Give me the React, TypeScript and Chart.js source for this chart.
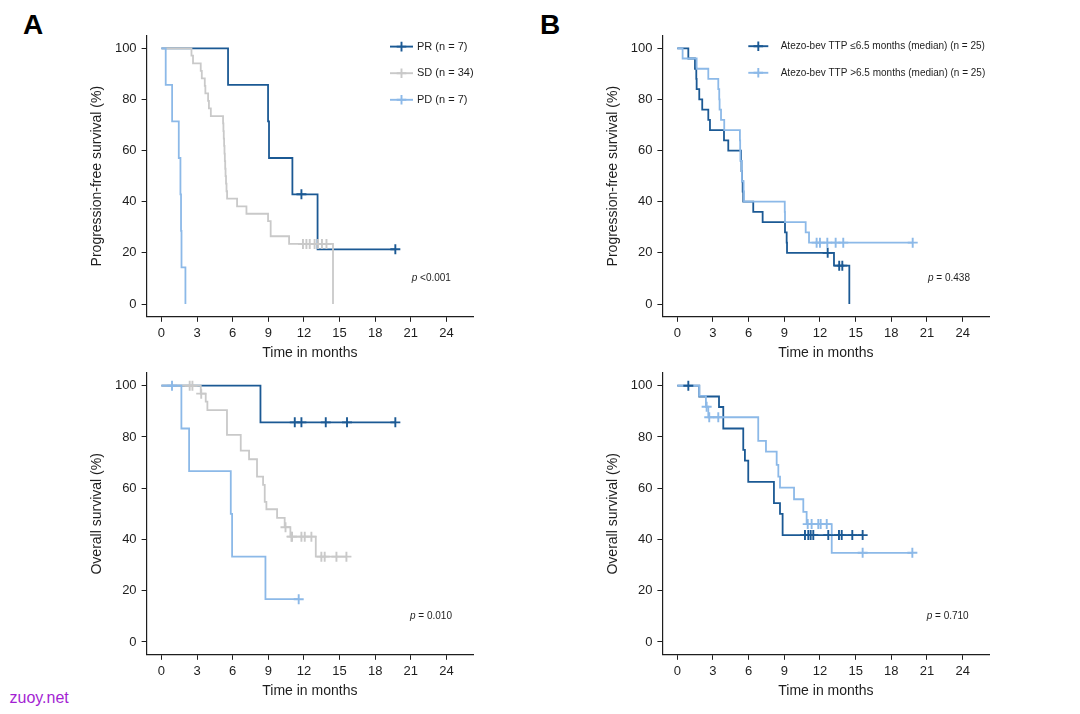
import React, { useEffect, useRef } from 'react';
import { Chart, registerables } from 'chart.js';

Chart.register(...registerables);

const FONT = "'Liberation Sans', Arial, Helvetica, sans-serif";
const DARK = '#1b5994';
const GRAY = '#c9c9c9';
const LIGHT = '#8cb9e8';
const INK = '#1e1e1e';

// ---------- axes ----------
const xTicks = [0, 3, 6, 9, 12, 15, 18, 21, 24];
const yTicks = [0, 20, 40, 60, 80, 100];
const xTitle = 'Time in months';
const yTitlePFS = 'Progression-free survival (%)';
const yTitleOS = 'Overall survival (%)';

// ---------- Panel A: PFS by response ----------
const pfsPR_t = [0, 5.61, 8.98, 9.06, 11.03, 13.15, 19.7];
const pfsPR_s = [100, 85.7, 71.4, 57.1, 42.9, 21.4, 21.4];
const pfsPR_c = [11.79, 19.7];

const pfsSD_t = [0, 2.53, 2.66, 3.31, 3.4, 3.65, 3.7, 3.93, 4.0, 4.16, 5.19, 5.22, 5.25, 5.28, 5.31, 5.34, 5.37, 5.4, 5.44, 5.48, 5.53, 6.37, 7.16, 8.98, 9.2, 10.75, 14.45];
const pfsSD_s = [100, 97.1, 94.1, 91.2, 88.2, 85.3, 82.4, 79.4, 76.5, 73.5, 70.6, 67.6, 64.7, 61.8, 58.8, 55.9, 52.9, 50.0, 47.1, 44.1, 41.2, 38.2, 35.3, 32.4, 26.5, 23.5, 0];
const pfsSD_c = [11.92, 12.21, 12.49, 12.9, 13.19, 13.52, 13.9];

const pfsPD_t = [0, 0.36, 0.9, 1.46, 1.6, 1.65, 1.69, 2.02];
const pfsPD_s = [100, 85.7, 71.4, 57.1, 42.9, 28.6, 14.3, 0];
const pfsPD_c: number[] = [];

// ---------- Panel A: OS by response ----------
const osPR_t = [0, 8.34, 19.7];
const osPR_s = [100, 85.7, 85.7];
const osPR_c = [11.23, 11.79, 13.84, 15.63, 19.7];

const osSD_t = [0, 3.31, 3.73, 3.87, 5.52, 6.68, 7.38, 8.05, 8.56, 8.7, 8.84, 9.74, 10.38, 10.86, 13.0, 15.58];
const osSD_s = [100, 96.9, 93.8, 90.5, 80.8, 74.7, 71.3, 64.5, 61.3, 54.7, 51.8, 48.4, 44.8, 41.1, 33.3, 33.3];
const osSD_c = [2.38, 2.61, 3.35, 10.45, 10.95, 11.0, 11.79, 12.07, 12.63, 13.47, 13.75, 14.74, 15.58];

const osPD_t = [0, 1.68, 2.33, 5.84, 5.95, 8.76, 11.56];
const osPD_s = [100, 83.3, 66.7, 50, 33.3, 16.7, 16.7];
const osPD_c = [0.89, 11.56];

// ---------- Panel B: PFS by atezo-bev TTP ----------
const pfsLo_t = [0, 0.93, 1.49, 1.6, 1.63, 1.85, 2.1, 2.61, 2.75, 3.93, 4.29, 5.36, 5.4, 5.45, 5.5, 5.55, 6.39, 7.18, 9.06, 9.2, 9.23, 13.18, 14.47];
const pfsLo_s = [100, 96, 92, 88, 84, 80, 76, 72, 68, 64, 60, 56, 52, 48, 44, 40, 36, 32, 28, 24, 20, 15, 0];
const pfsLo_c = [12.65, 13.62, 13.88];

const pfsHi_t = [0, 0.45, 1.63, 2.61, 3.45, 3.53, 3.56, 3.68, 3.95, 5.27, 5.29, 5.31, 5.42, 5.44, 5.58, 5.61, 9.04, 9.06, 10.8, 11.08, 19.8];
const pfsHi_s = [100, 96, 92, 88, 84, 80, 76, 72, 68, 64, 60, 56, 52, 48, 44, 40, 36, 32, 28, 24, 24];
const pfsHi_c = [11.72, 12.0, 12.62, 13.32, 13.96, 19.8];

// ---------- Panel B: OS by atezo-bev TTP ----------
const osLo_t = [0, 1.85, 3.51, 3.87, 5.55, 5.69, 5.97, 8.13, 8.64, 8.86, 15.59];
const osLo_s = [100, 95.8, 91.7, 83.3, 75.0, 70.8, 62.5, 54.2, 50.0, 41.7, 41.7];
const osLo_c = [0.93, 10.74, 11.02, 11.22, 11.44, 12.7, 13.6, 13.83, 14.72, 15.59];

const osHi_t = [0, 1.85, 2.41, 2.61, 6.81, 7.46, 8.36, 8.5, 8.64, 9.82, 10.6, 10.88, 12.99, 19.77];
const osHi_s = [100, 96, 91.8, 87.7, 78.5, 74.3, 69.1, 64.5, 60.2, 55.7, 50.8, 46.0, 34.8, 34.8];
const osHi_c = [2.47, 2.69, 3.45, 10.97, 11.3, 11.86, 12.06, 12.57, 15.59, 19.77];

// ---------- legends & p values ----------
const legendA = ['PR (n = 7)', 'SD (n = 34)', 'PD (n = 7)'];
const legendB = ['Atezo-bev TTP \u22646.5 months (median) (n = 25)', 'Atezo-bev TTP >6.5 months (median) (n = 25)'];
const pValues = ['<0.001', '= 0.010', '= 0.438', '= 0.710'];

type Curve = { t: number[]; s: number[]; c: number[]; color: string };
type Rect = { L: number; T: number; W: number; H: number };
type Area = { left: number; top: number; right: number; bottom: number };
type Panel = {
  curves: Curve[]; // first = drawn on top
  yTitle: string;
  rect: Rect;
  area: Area;
  legend: { labels: string[]; colors: string[]; x1: number; x2: number; tx: number; y0: number; dy: number; size: number } | null;
  p: { text: string; x: number; y: number };
};

function survAt(t: number[], s: number[], x: number): number {
  let v = s[0];
  for (let i = 0; i < t.length; i++) if (t[i] <= x) v = s[i];
  return v;
}

const rectAT: Rect = { L: 89, T: 16, W: 391, H: 346 };
const rectAB: Rect = { L: 89, T: 356, W: 391, H: 344 };
const rectBT: Rect = { L: 605, T: 16, W: 393, H: 346 };
const rectBB: Rect = { L: 605, T: 356, W: 393, H: 344 };

const areaAT: Area = { left: 146.6, right: 473.2, top: 35.5, bottom: 316.8 };
const areaAB: Area = { left: 146.6, right: 473.2, top: 372.9, bottom: 654.8 };
const areaBT: Area = { left: 662.4, right: 989.4, top: 35.5, bottom: 316.8 };
const areaBB: Area = { left: 662.4, right: 989.4, top: 372.9, bottom: 654.8 };

const panels: Panel[] = [
  {
    curves: [
      { t: pfsPD_t, s: pfsPD_s, c: pfsPD_c, color: LIGHT },
      { t: pfsSD_t, s: pfsSD_s, c: pfsSD_c, color: GRAY },
      { t: pfsPR_t, s: pfsPR_s, c: pfsPR_c, color: DARK },
    ],
    yTitle: yTitlePFS,
    rect: rectAT,
    area: areaAT,
    legend: { labels: legendA, colors: [DARK, GRAY, LIGHT], x1: 390, x2: 413, tx: 417, y0: 46.6, dy: 26.6, size: 11 },
    p: { text: pValues[0], x: 411.7, y: 278.3 },
  },
  {
    curves: [
      { t: osPD_t, s: osPD_s, c: osPD_c, color: LIGHT },
      { t: osSD_t, s: osSD_s, c: osSD_c, color: GRAY },
      { t: osPR_t, s: osPR_s, c: osPR_c, color: DARK },
    ],
    yTitle: yTitleOS,
    rect: rectAB,
    area: areaAB,
    legend: null,
    p: { text: pValues[1], x: 410, y: 616.7 },
  },
  {
    curves: [
      { t: pfsHi_t, s: pfsHi_s, c: pfsHi_c, color: LIGHT },
      { t: pfsLo_t, s: pfsLo_s, c: pfsLo_c, color: DARK },
    ],
    yTitle: yTitlePFS,
    rect: rectBT,
    area: areaBT,
    legend: { labels: legendB, colors: [DARK, LIGHT], x1: 748.3, x2: 768.3, tx: 780.7, y0: 46.2, dy: 26.6, size: 10 },
    p: { text: pValues[2], x: 928, y: 278.3 },
  },
  {
    curves: [
      { t: osHi_t, s: osHi_s, c: osHi_c, color: LIGHT },
      { t: osLo_t, s: osLo_s, c: osLo_c, color: DARK },
    ],
    yTitle: yTitleOS,
    rect: rectBB,
    area: areaBB,
    legend: null,
    p: { text: pValues[3], x: 926.7, y: 616.7 },
  },
];

function drawCross(ctx: CanvasRenderingContext2D, x: number, y: number, r: number) {
  ctx.beginPath();
  ctx.moveTo(x - r, y);
  ctx.lineTo(x + r, y);
  ctx.moveTo(x, y - r);
  ctx.lineTo(x, y + r);
  ctx.stroke();
}

function drawOverlay(chart: any, p: Panel) {
  const ctx: CanvasRenderingContext2D = chart.ctx;
  const ox = p.rect.L;
  const oy = p.rect.T;
  ctx.save();
  if (p.legend) {
    const lg = p.legend;
    lg.labels.forEach((label, i) => {
      const y = lg.y0 + i * lg.dy - oy;
      ctx.strokeStyle = lg.colors[i];
      ctx.lineWidth = 1.9;
      ctx.beginPath();
      ctx.moveTo(lg.x1 - ox, y);
      ctx.lineTo(lg.x2 - ox, y);
      ctx.stroke();
      drawCross(ctx, (lg.x1 + lg.x2) / 2 - ox, y, 4.8);
      ctx.fillStyle = INK;
      ctx.font = `${lg.size}px ${FONT}`;
      ctx.textBaseline = 'middle';
      ctx.textAlign = 'left';
      ctx.fillText(label, lg.tx - ox, y);
    });
  }
  ctx.fillStyle = INK;
  ctx.textBaseline = 'middle';
  ctx.textAlign = 'left';
  ctx.font = `italic 10px ${FONT}`;
  ctx.fillText('p', p.p.x - ox, p.p.y - oy);
  const w = ctx.measureText('p').width;
  ctx.font = `10px ${FONT}`;
  ctx.fillText(' ' + p.p.text, p.p.x - ox + w, p.p.y - oy);
  ctx.restore();
}

function buildConfig(p: Panel): any {
  const yw = p.area.left - p.rect.L;
  const xh = p.rect.T + p.rect.H - p.area.bottom;
  const padTop = p.area.top - p.rect.T;
  const padRight = p.rect.L + p.rect.W - p.area.right;
  const datasets: any[] = [];
  p.curves.forEach((c) => {
    datasets.push({
      data: c.c.map((x) => ({ x, y: survAt(c.t, c.s, x) })),
      showLine: false,
      pointStyle: 'cross',
      pointRadius: 5,
      pointHoverRadius: 5,
      pointBorderWidth: 1.9,
      pointBorderColor: c.color,
      borderColor: c.color,
      backgroundColor: c.color,
      clip: false,
    });
  });
  p.curves.forEach((c) => {
    datasets.push({
      data: c.t.map((x, i) => ({ x, y: c.s[i] })),
      stepped: 'before',
      borderColor: c.color,
      backgroundColor: c.color,
      borderWidth: 1.8,
      pointRadius: 0,
      pointHoverRadius: 0,
      fill: false,
      tension: 0,
    });
  });
  const tickFont = { family: FONT, size: 13 };
  const titleFont = { family: FONT, size: 14 };
  const grid = { display: true, drawOnChartArea: false, drawTicks: true, tickLength: 5, color: INK, lineWidth: 1 };
  const border = { display: true, color: INK, width: 1.2 };
  return {
    type: 'line',
    data: { datasets },
    options: {
      animation: false,
      responsive: false,
      maintainAspectRatio: false,
      events: [],
      layout: { padding: { left: 0, top: padTop, right: padRight, bottom: 0 } },
      plugins: { legend: { display: false }, tooltip: { enabled: false }, title: { display: false } },
      scales: {
        x: {
          type: 'linear',
          min: -1.25,
          max: 26.25,
          afterBuildTicks: (s: any) => {
            s.ticks = xTicks.map((v) => ({ value: v }));
          },
          afterFit: (s: any) => {
            s.height = xh;
          },
          grid,
          border,
          ticks: { font: tickFont, color: INK, padding: 4, maxRotation: 0, autoSkip: false },
          title: { display: true, text: xTitle, font: titleFont, color: INK, padding: 0 },
        },
        y: {
          type: 'linear',
          min: -5,
          max: 105,
          afterBuildTicks: (s: any) => {
            s.ticks = yTicks.map((v) => ({ value: v }));
          },
          afterFit: (s: any) => {
            s.width = yw;
          },
          grid,
          border,
          ticks: { font: tickFont, color: INK, padding: 5, autoSkip: false },
          title: { display: true, text: p.yTitle, font: titleFont, color: INK, padding: 0 },
        },
      },
    },
    plugins: [{ id: 'overlay', afterDraw: (chart: any) => drawOverlay(chart, p) }],
  };
}

export default function App() {
  const r0 = useRef<HTMLCanvasElement>(null);
  const r1 = useRef<HTMLCanvasElement>(null);
  const r2 = useRef<HTMLCanvasElement>(null);
  const r3 = useRef<HTMLCanvasElement>(null);
  const refs = [r0, r1, r2, r3];

  useEffect(() => {
    Chart.defaults.font.family = FONT;
    const charts: Chart[] = [];
    refs.forEach((r, i) => {
      if (r.current) charts.push(new Chart(r.current, buildConfig(panels[i])));
    });
    return () => charts.forEach((c) => c.destroy());
  }, []);

  return (
    <div style={{ position: 'absolute', left: 0, top: 0, width: 1080, height: 714, background: '#fff', overflow: 'hidden', fontFamily: FONT }}>
      {panels.map((p, i) => (
        <canvas
          key={i}
          ref={refs[i]}
          width={p.rect.W}
          height={p.rect.H}
          style={{ position: 'absolute', left: p.rect.L, top: p.rect.T, width: p.rect.W, height: p.rect.H }}
        />
      ))}
      <div style={{ position: 'absolute', left: 23, top: 11.3, fontSize: 28, lineHeight: '28px', fontWeight: 'bold', color: '#000' }}>A</div>
      <div style={{ position: 'absolute', left: 540, top: 11.3, fontSize: 28, lineHeight: '28px', fontWeight: 'bold', color: '#000' }}>B</div>
      <div style={{ position: 'absolute', left: 9.5, top: 689.8, fontSize: 16, lineHeight: '16px', color: '#a41fd3' }}>zuoy.net</div>
    </div>
  );
}
